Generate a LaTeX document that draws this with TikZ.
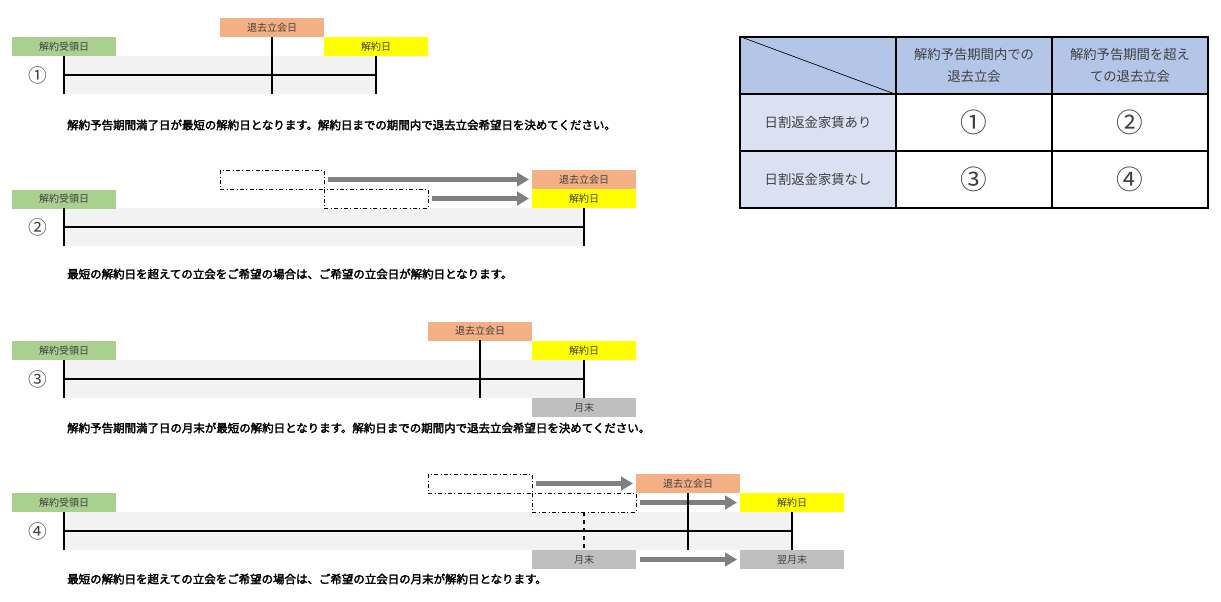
\documentclass[tikz,border=0pt]{standalone}
\usepackage{fontspec}
\setmainfont{Noto Sans CJK JP}[AutoFakeBold=2.5]
\usetikzlibrary{arrows.meta}
\definecolor{cg}{RGB}{169,208,142}
\definecolor{cs}{RGB}{244,176,132}
\definecolor{cy}{RGB}{255,255,0}
\definecolor{cgr}{RGB}{191,191,191}
\definecolor{band}{RGB}{242,242,242}
\definecolor{arr}{RGB}{128,128,128}
\definecolor{th}{RGB}{180,198,231}
\definecolor{tc}{RGB}{217,225,242}
\definecolor{tt}{RGB}{64,64,64}
\tikzset{
 lbl/.style={minimum width=78pt,minimum height=14.25pt,inner sep=0pt,font=\fontsize{7.5}{8}\selectfont,text=tt},
 dbox/.style={minimum width=78pt,minimum height=14.25pt,inner sep=0pt,draw=black,dash dot,line width=0.6pt},
 bar/.style={line width=2.2pt,black},
 garr/.style={line width=3.5pt,arr,-{Triangle[length=9pt,width=10pt]},shorten >=2pt,shorten <=3pt},
 num/.style={font=\fontsize{14}{14}\selectfont,text=tt},
 note/.style={anchor=west,font=\bfseries\fontsize{8.6}{9}\selectfont,inner sep=0pt},
 cell/.style={minimum width=117pt,minimum height=42.75pt,inner sep=0pt,draw=black,line width=1pt,align=center,text=tt},
}
\begin{document}
\begin{tikzpicture}[x=0.75pt,y=-0.75pt]
\useasboundingbox[fill=white] (0,0) rectangle (1221,601);
% ---------- 1
\fill[band] (64,56) rectangle (376,94);
\node[lbl,fill=cg] (g1) at (64,46.5) {解約受領日};
\node[lbl,fill=cs] (s1) at (272,27.5) {退去立会日};
\node[lbl,fill=cy] (y1) at (376,46.5) {解約日};
\node[num] (n1) at (38,75) {①};
\coordinate (a1) at (64,56); \coordinate (a1b) at (64,94);
\coordinate (b1) at (272,37); \coordinate (b1b) at (272,94);
\coordinate (c1) at (376,56); \coordinate (c1b) at (376,94);
\draw[bar] (a1)--(a1b); \draw[line width=1.3pt] (b1)--(b1b); \draw[bar] (c1)--(c1b);
\draw[bar] (64,75)--(376,75);
\node[note] (t1) at (67,125) {解約予告期間満了日が最短の解約日となります。解約日までの期間内で退去立会希望日を決めてください。};
% ---------- 2
\fill[band] (64,208) rectangle (584,246);
\node[lbl,fill=cg] (g2) at (64,199) {解約受領日};
\node[lbl,fill=cs] (s2) at (584,179.5) {退去立会日};
\node[lbl,fill=cy] (y2) at (584,198.5) {解約日};
\node[dbox] (d2a) at (272,179.5) {};
\node[dbox] (d2b) at (376,198.5) {};
\draw[garr] (d2a.east)--(s2.west);
\draw[garr] (d2b.east)--(y2.west);
\node[num] (n2) at (38,227) {②};
\draw[bar] (64,208)--(64,246); \draw[bar] (584,208)--(584,246);
\draw[bar] (64,227)--(584,227);
\node[note] (t2) at (67,274) {最短の解約日を超えての立会をご希望の場合は、ご希望の立会日が解約日となります。};
% ---------- 3
\fill[band] (64,360) rectangle (584,398);
\node[lbl,fill=cg] (g3) at (64,350.5) {解約受領日};
\node[lbl,fill=cs] (s3) at (480,331) {退去立会日};
\node[lbl,fill=cy] (y3) at (584,350.5) {解約日};
\node[lbl,fill=cgr] (m3) at (584,407.5) {月末};
\node[num] (n3) at (38,379) {③};
\draw[bar] (64,360)--(64,398); \draw[line width=1.3pt] (480,340)--(480,398); \draw[bar] (584,360)--(584,398);
\draw[bar] (64,379)--(584,379);
\node[note] (t3) at (67,428) {解約予告期間満了日の月末が最短の解約日となります。解約日までの期間内で退去立会希望日を決めてください。};
% ---------- 4
\fill[band] (64,512) rectangle (792,550);
\node[lbl,fill=cg] (g4) at (64,502.5) {解約受領日};
\node[dbox] (d4a) at (480,483.5) {};
\node[dbox] (d4b) at (584,502.5) {};
\node[lbl,fill=cs] (s4) at (688,483.5) {退去立会日};
\node[lbl,fill=cy] (y4) at (792,502.5) {解約日};
\node[lbl,fill=cgr] (m4) at (584,559.5) {月末};
\node[lbl,fill=cgr] (m4b) at (792,559.5) {翌月末};
\draw[garr] (d4a.east)--(s4.west);
\draw[garr] (d4b.east)--(y4.west);
\draw[garr] (m4.east)--(m4b.west);
\node[num] (n4) at (38,531) {④};
\draw[bar] (64,512)--(64,550); \draw[line width=1.3pt,dashed] (584,512)--(584,550);
\draw[line width=1.3pt] (688,493)--(688,550); \draw[bar] (792,512)--(792,550);
\draw[bar] (64,531)--(792,531);
\node[note] (t4) at (67,579) {最短の解約日を超えての立会をご希望の場合は、ご希望の立会日の月末が解約日となります。};
% ---------- table
\begin{scope}[every node/.style={cell}]
\node[fill=th] (h0) at (818,65.5) {};
\node[fill=th,font=\fontsize{10}{17}\selectfont] (h1) at (974,65.5) {解約予告期間内での\\退去立会};
\node[fill=th,font=\fontsize{10}{17}\selectfont] (h2) at (1130,65.5) {解約予告期間を超え\\ての退去立会};
\node[fill=tc,font=\fontsize{10}{12}\selectfont] (r1) at (818,122.5) {日割返金家賃あり};
\node[font=\fontsize{20}{20}\selectfont] (r11) at (974,122.5) {①};
\node[font=\fontsize{20}{20}\selectfont] (r12) at (1130,122.5) {②};
\node[fill=tc,font=\fontsize{10}{12}\selectfont] (r2) at (818,179.5) {日割返金家賃なし};
\node[font=\fontsize{20}{20}\selectfont] (r21) at (974,179.5) {③};
\node[font=\fontsize{20}{20}\selectfont] (r22) at (1130,179.5) {④};
\end{scope}
\draw[line width=0.5pt] (h0.north west)--(h0.south east);
\end{tikzpicture}
\end{document}
